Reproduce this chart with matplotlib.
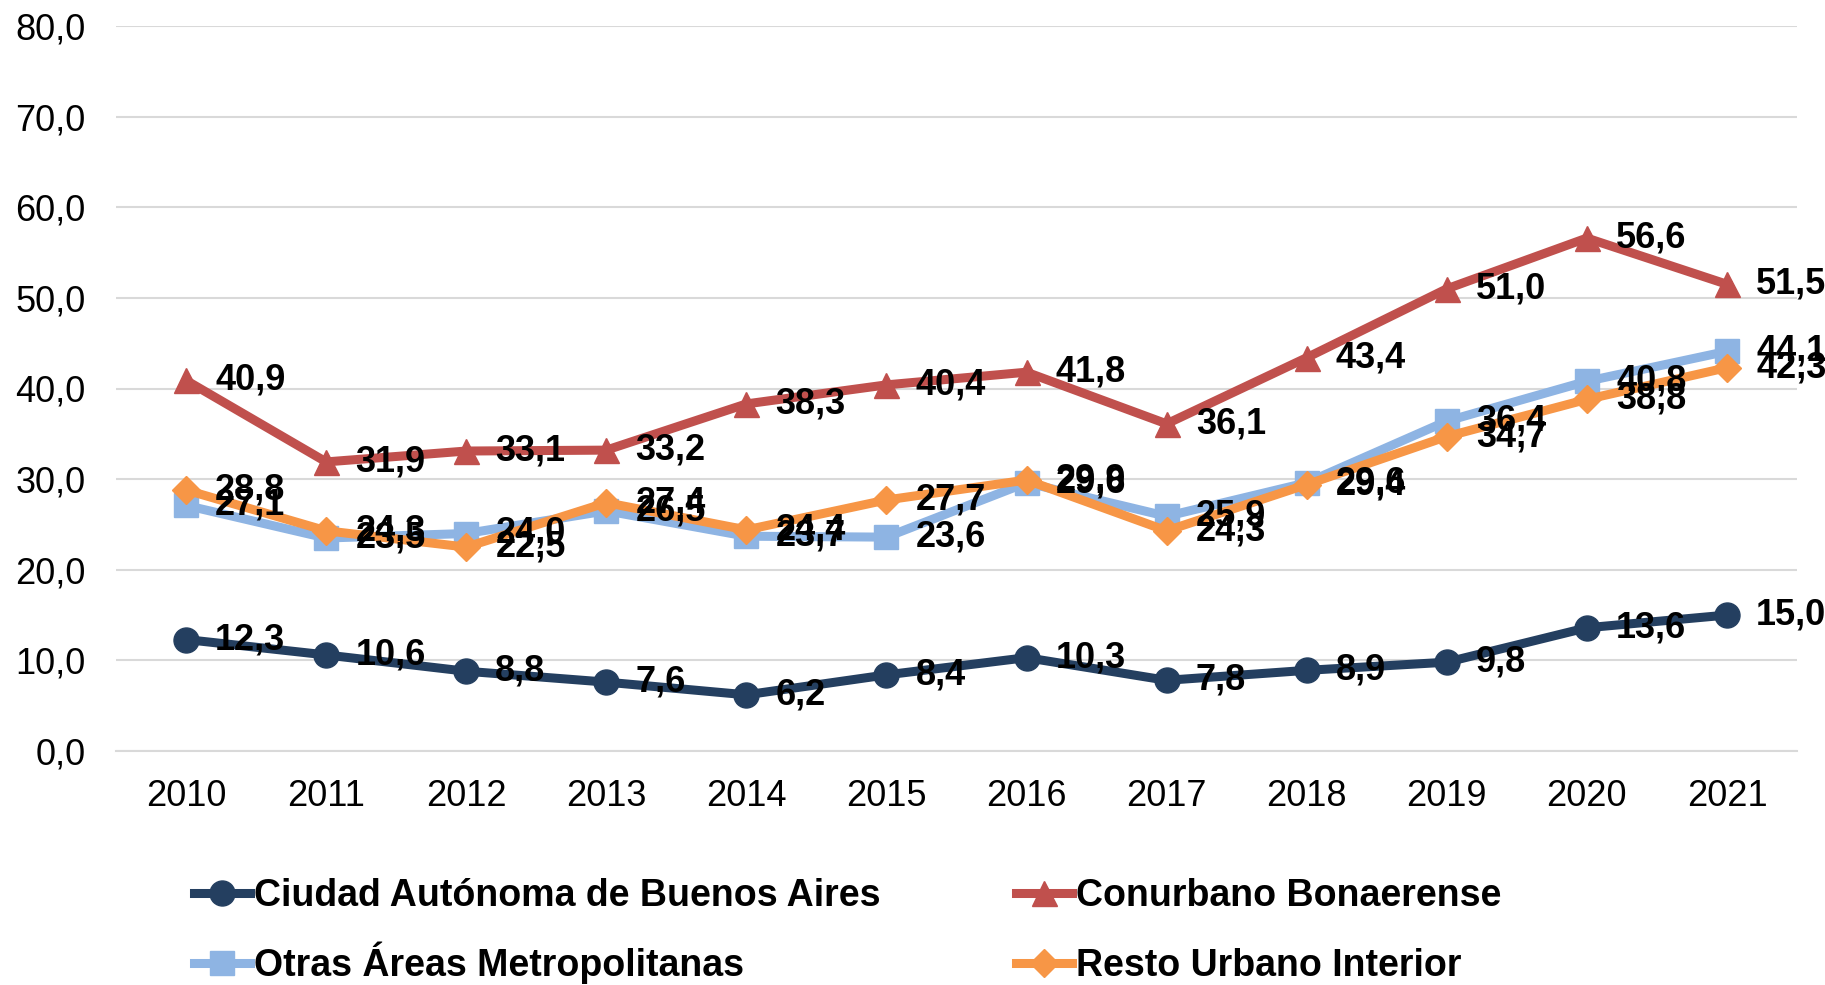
import matplotlib
matplotlib.use('Agg')
from matplotlib import pyplot as plt

years = ['2010', '2011', '2012', '2013', '2014', '2015', '2016', '2017', '2018', '2019', '2020', '2021']
caba = [12.3, 10.6, 8.8, 7.6, 6.2, 8.4, 10.3, 7.8, 8.9, 9.8, 13.6, 15.0]
conurbano = [40.9, 31.9, 33.1, 33.2, 38.3, 40.4, 41.8, 36.1, 43.4, 51.0, 56.6, 51.5]
otras = [27.1, 23.5, 24.0, 26.5, 23.7, 23.6, 29.6, 25.9, 29.6, 36.4, 40.8, 44.1]
resto = [28.8, 24.3, 22.5, 27.4, 24.4, 27.7, 29.9, 24.3, 29.4, 34.7, 38.8, 42.3]

series_names = ['Ciudad Autónoma de Buenos Aires', 'Conurbano Bonaerense',
                'Otras Áreas Metropolitanas', 'Resto Urbano Interior']
series_vals = [caba, conurbano, otras, resto]
colors = ['#243F60', '#C0504D', '#8EB4E3', '#F79646']
markers = ['o', '^', 's', 'D']
msizes = [18, 18, 17, 14]

plt.rcParams['font.family'] = ['Liberation Sans', 'DejaVu Sans']


def fmt(v):
    return ('%.1f' % v).replace('.', ',')


fig = plt.figure(figsize=(18.25, 9.85), dpi=100)
ax = fig.add_axes([116 / 1825, 1 - 751 / 985, (1797 - 116) / 1825, (751 - 26) / 985])

x = list(range(len(years)))
lines = []
for name, vals, c, m, ms in zip(series_names, series_vals, colors, markers, msizes):
    ln, = ax.plot(x, vals, color=c, lw=6.5, marker=m, markersize=ms, label=name)
    lines.append(ln)

for vals in series_vals:
    for xi, v in zip(x, vals):
        ax.annotate(fmt(v), (xi, v), xytext=(21, 0), textcoords='offset points',
                    ha='left', va='center', fontsize=26, fontweight='bold', color='black',
                    zorder=10)

ax.set_xlim(-0.5, len(years) - 0.5)
ax.set_ylim(0, 80)
ax.set_yticks(range(0, 81, 10))
ax.set_yticklabels([fmt(v) for v in range(0, 81, 10)])
ax.set_xticks(x)
ax.set_xticklabels(years)
ax.tick_params(axis='both', length=0, labelsize=26)
ax.tick_params(axis='y', pad=22)
ax.tick_params(axis='x', pad=20)
ax.grid(axis='y', color='#D9D9D9', lw=1.5)
ax.set_axisbelow(True)
for s in ['top', 'right', 'left']:
    ax.spines[s].set_visible(False)
ax.spines['bottom'].set_color('#D9D9D9')
ax.spines['bottom'].set_linewidth(1.5)

# one legend entry per slot, laid out row by row like the reference
slots = [(194, 896), (1016, 896), (194, 963), (1016, 966)]
for ln, (lx, ly) in zip(lines, slots):
    fig.legend(handles=[ln], loc='center left', bbox_to_anchor=(lx / 1825, 1 - ly / 985),
               frameon=False, handlelength=1.5, handletextpad=0.1, borderaxespad=0,
               borderpad=0, prop={'weight': 'bold', 'size': 27})

fig.savefig('out.png', dpi=100)
